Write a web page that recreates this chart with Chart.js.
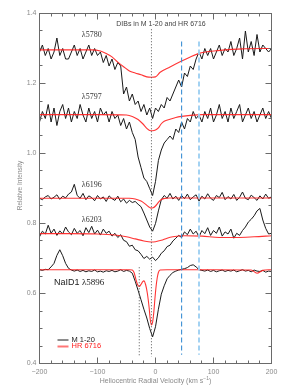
<!DOCTYPE html>
<html>
<head>
<meta charset="utf-8">
<script src="https://cdn.jsdelivr.net/npm/chart.js@4.4.0/dist/chart.umd.min.js"></script>
<style>
html, body { margin: 0; padding: 0; background: #fff; }
</style>
</head>
<body>
<canvas id="grafica" width="283" height="390"></canvas>
<script>
// velocity grid of the M 1-20 spectra (km/s)
const vel = [-200,-195,-190,-185,-180,-175,-170,-165,-160,-155,
  -150,-145,-140,-135,-130,-125,-120,-115,-110,-105,
  -100,-95,-90,-85,-80,-75,-70,-65,-60,-55,
  -50,-45,-40,-35,-30,-25,-20,-15,-10,-5,
  0,5,10,15,20,25,30,35,40,45,
  50,55,60,65,70,75,80,85,90,95,
  100,105,110,115,120,125,130,135,140,145,
  150,155,160,165,170,175,180,185,190,195,
  200];

// M 1-20 (black)
const m5780 = [1.29,1.31,1.28,1.30,1.27,1.29,1.33,1.28,1.30,1.27,
  1.27,1.29,1.31,1.28,1.30,1.27,1.29,1.31,1.28,1.30,
  1.28,1.29,1.26,1.28,1.25,1.27,1.24,1.26,1.25,1.17,
  1.19,1.15,1.17,1.14,1.15,1.12,1.14,1.11,1.13,1.10,
  1.13,1.12,1.14,1.13,1.16,1.15,1.17,1.19,1.21,1.19,
  1.23,1.22,1.25,1.24,1.27,1.29,1.27,1.30,1.28,1.30,
  1.27,1.29,1.31,1.28,1.30,1.29,1.32,1.28,1.30,1.33,
  1.27,1.35,1.29,1.32,1.28,1.34,1.29,1.31,1.30,1.29,
  1.30];
const m5797 = [1.09,1.12,1.10,1.14,1.09,1.13,1.08,1.12,1.14,1.10,
  1.13,1.09,1.12,1.10,1.14,1.11,1.09,1.13,1.10,1.12,
  1.09,1.13,1.11,1.12,1.09,1.12,1.10,1.11,1.08,1.10,
  1.07,1.09,1.06,1.04,0.99,0.96,0.93,0.92,0.90,0.88,
  0.92,0.98,1.01,1.03,1.04,1.05,1.04,1.07,1.06,1.09,
  1.07,1.10,1.09,1.12,1.10,1.11,1.09,1.12,1.10,1.13,
  1.09,1.11,1.14,1.10,1.12,1.09,1.13,1.10,1.12,1.14,
  1.09,1.11,1.13,1.10,1.12,1.09,1.11,1.13,1.10,1.12,
  1.10];
const m6196 = [0.872,0.868,0.876,0.880,0.870,0.875,0.882,0.869,0.878,0.873,
  0.884,0.890,0.912,0.880,0.872,0.886,0.868,0.879,0.874,0.865,
  0.880,0.870,0.876,0.863,0.879,0.871,0.866,0.878,0.862,0.870,
  0.858,0.866,0.860,0.863,0.855,0.848,0.830,0.810,0.790,0.778,
  0.800,0.836,0.868,0.880,0.872,0.886,0.870,0.878,0.866,0.880,
  0.871,0.884,0.868,0.876,0.882,0.864,0.878,0.870,0.885,0.872,
  0.866,0.880,0.874,0.889,0.868,0.877,0.870,0.883,0.866,0.875,
  0.890,0.872,0.868,0.881,0.874,0.866,0.879,0.870,0.884,0.872,
  0.876];
const m6203 = [0.762,0.778,0.770,0.795,0.772,0.784,0.766,0.779,0.770,0.790,
  0.776,0.768,0.786,0.772,0.780,0.765,0.788,0.774,0.792,0.770,
  0.781,0.767,0.784,0.772,0.778,0.764,0.772,0.760,0.768,0.752,
  0.748,0.735,0.738,0.725,0.722,0.712,0.700,0.706,0.698,0.704,
  0.694,0.702,0.715,0.722,0.734,0.738,0.750,0.758,0.766,0.760,
  0.776,0.768,0.784,0.770,0.778,0.762,0.780,0.771,0.788,0.766,
  0.780,0.772,0.790,0.764,0.776,0.770,0.784,0.758,0.772,0.766,
  0.780,0.790,0.804,0.812,0.822,0.836,0.843,0.810,0.786,0.770,
  0.772];
const mNa = [0.668,0.666,0.669,0.668,0.676,0.686,0.709,0.725,0.708,0.686,
  0.672,0.667,0.664,0.667,0.663,0.666,0.662,0.665,0.663,0.667,
  0.662,0.664,0.661,0.665,0.663,0.666,0.662,0.664,0.668,0.663,
  0.666,0.664,0.658,0.635,0.609,0.582,0.555,0.530,0.500,0.476,
  0.505,0.555,0.598,0.622,0.642,0.652,0.660,0.664,0.667,0.669,
  0.671,0.674,0.680,0.682,0.676,0.668,0.666,0.664,0.667,0.663,
  0.666,0.662,0.665,0.667,0.663,0.666,0.664,0.667,0.662,0.665,
  0.668,0.664,0.666,0.662,0.667,0.664,0.663,0.666,0.661,0.664,
  0.663];

// HR 6716 (red)
const r5780Vel = [-200,-150,-110,-95,-85,-75,-65,-55,-45,-35,-25,-15,-7,0,8,25,45,60,75,90,107,150,200];
const r5780 = [1.296,1.296,1.296,1.293,1.286,1.276,1.261,1.248,1.236,1.230,1.225,1.219,1.218,1.219,1.232,1.247,1.264,1.276,1.286,1.291,1.294,1.299,1.300];
const r5797Vel = [-200,-100,-50,-40,-30,-22,-15,-10,-5,0,5,10,15,25,35,45,60,80,200];
const r5797 = [1.111,1.111,1.110,1.106,1.097,1.085,1.072,1.066,1.065,1.067,1.073,1.085,1.092,1.098,1.103,1.106,1.109,1.111,1.111];
const r6196Vel = [-200,-45,-35,-25,-18,-12,-8,-4,0,4,8,14,25,200];
const r6196 = [0.872,0.872,0.870,0.864,0.856,0.848,0.844,0.845,0.850,0.858,0.866,0.871,0.873,0.873];
const r6203Vel = [-200,-150,-100,-70,-50,-35,-20,-8,0,10,20,30,50,80,110,140,170,200];
const r6203 = [0.771,0.771,0.770,0.767,0.762,0.756,0.750,0.747,0.748,0.752,0.758,0.762,0.765,0.764,0.760,0.760,0.762,0.765];
const rNaVel = [-200,-100,-45,-40,-37,-34,-31,-28,-25,-22,-20,-17,-14,-11,-9,-7,-5,-3,-1,1,3,5,8,20,100,165,175,185,200];
const rNa = [0.668,0.668,0.668,0.667,0.660,0.642,0.626,0.620,0.626,0.634,0.636,0.625,0.600,0.560,0.525,0.510,0.518,0.545,0.585,0.620,0.645,0.660,0.667,0.668,0.668,0.667,0.658,0.666,0.668];

// velocity markers
const markVel = [-7, -28, 45, 75];
const markTop = [1.355, 0.675, 1.32, 1.32];
const markBottom = [0.42, 0.42, 0.425, 0.425];

// axis ticks
const xTicks = [-200, -100, 0, 100, 200];
const xTickLabels = ['\u2212200', '\u2212100', '0', '100', '200'];
const yTicks = [0.4, 0.6, 0.8, 1.0, 1.2, 1.4];
const yTickLabels = ['0.4', '0.6', '0.8', '1.0', '1.2', '1.4'];

const bandLabels = [
  { text: '\u03bb5780', x: -127, y: 1.34 },
  { text: '\u03bb5797', x: -127, y: 1.163 },
  { text: '\u03bb6196', x: -127, y: 0.911 },
  { text: '\u03bb6203', x: -127, y: 0.811 }
];

function pairs(xs, ys) {
  return xs.map((v, i) => ({ x: v, y: ys[i] }));
}

const black = '#1a1a1a';
const red = 'rgba(255,30,30,0.9)';

function spec(ys) {
  return { data: pairs(vel, ys), borderColor: black, borderWidth: 1, pointRadius: 0, order: 3 };
}
function hr(xs, ys) {
  return { data: pairs(xs, ys), borderColor: red, borderWidth: 1.1, pointRadius: 0,
    cubicInterpolationMode: 'monotone', order: 2 };
}
function marker(i, color, dash, width) {
  return { data: [{ x: markVel[i], y: markTop[i] }, { x: markVel[i], y: markBottom[i] }],
    borderColor: color, borderDash: dash, borderWidth: width, pointRadius: 0, order: 1 };
}

const decor = {
  id: 'decor',
  afterDraw(chart) {
    const { ctx, chartArea: a } = chart;
    const sx = chart.scales.x, sy = chart.scales.y;
    ctx.save();

    // frame and inward ticks
    ctx.strokeStyle = '#6a6a6a';
    ctx.lineWidth = 1;
    ctx.strokeRect(a.left, a.top, a.right - a.left, a.bottom - a.top);
    ctx.beginPath();
    for (let v = -200; v <= 200; v += 20) {
      const px = Math.floor(sx.getPixelForValue(v)) + 0.5;
      const len = v % 100 === 0 ? 6 : 3;
      ctx.moveTo(px, a.bottom); ctx.lineTo(px, a.bottom - len);
      ctx.moveTo(px, a.top); ctx.lineTo(px, a.top + len);
    }
    for (let k = 0; k <= 20; k++) {
      const v = 0.4 + k * 0.05;
      const py = Math.floor(sy.getPixelForValue(v)) + 0.5;
      const len = k % 4 === 0 ? 6 : 3;
      ctx.moveTo(a.left, py); ctx.lineTo(a.left + len, py);
      ctx.moveTo(a.right, py); ctx.lineTo(a.right - len, py);
    }
    ctx.stroke();

    // tick labels
    ctx.fillStyle = '#8a8a8a';
    ctx.font = '7px "Liberation Sans", Arial, sans-serif';
    ctx.textBaseline = 'middle';
    ctx.textAlign = 'right';
    yTicks.forEach((v, i) => ctx.fillText(yTickLabels[i], a.left - 3, sy.getPixelForValue(v)));
    ctx.textAlign = 'center';
    xTicks.forEach((v, i) => ctx.fillText(xTickLabels[i], sx.getPixelForValue(v), a.bottom + 9));

    // axis titles
    const cx = (a.left + a.right) / 2;
    const t1 = 'Heliocentric Radial Velocity (km s';
    ctx.font = '7px "Liberation Sans", Arial, sans-serif';
    const w1 = ctx.measureText(t1).width;
    ctx.font = '5px "Liberation Sans", Arial, sans-serif';
    const w2 = ctx.measureText('\u22121').width;
    ctx.font = '7px "Liberation Sans", Arial, sans-serif';
    const w3 = ctx.measureText(')').width;
    let x0 = cx - (w1 + w2 + w3) / 2;
    ctx.textAlign = 'left';
    ctx.fillText(t1, x0, a.bottom + 18);
    ctx.font = '5px "Liberation Sans", Arial, sans-serif';
    ctx.fillText('\u22121', x0 + w1, a.bottom + 15.5);
    ctx.font = '7px "Liberation Sans", Arial, sans-serif';
    ctx.fillText(')', x0 + w1 + w2, a.bottom + 18);

    ctx.save();
    ctx.translate(20, (a.top + a.bottom) / 2 - 3);
    ctx.rotate(-Math.PI / 2);
    ctx.textAlign = 'center';
    ctx.font = '6.5px "Liberation Sans", Arial, sans-serif';
    ctx.fillText('Relative Intensity', 0, 0);
    ctx.restore();

    // title
    ctx.fillStyle = '#444';
    ctx.font = '7px "Liberation Sans", Arial, sans-serif';
    ctx.textAlign = 'center';
    ctx.fillText('DIBs in M 1-20 and HR 6716', 161, a.top + 11);

    // band labels
    ctx.fillStyle = '#333';
    ctx.textAlign = 'left';
    ctx.font = '8px "Liberation Serif", "Times New Roman", serif';
    bandLabels.forEach(l => ctx.fillText(l.text, sx.getPixelForValue(l.x), sy.getPixelForValue(l.y)));
    ctx.fillStyle = '#222';
    ctx.font = '9px "Liberation Sans", Arial, sans-serif';
    ctx.fillText('NaID1', sx.getPixelForValue(-175), sy.getPixelForValue(0.631));
    ctx.font = '9px "Liberation Serif", "Times New Roman", serif';
    ctx.fillText('\u03bb5896', sx.getPixelForValue(-175) + 28, sy.getPixelForValue(0.631));

    // legend
    const lx = a.left + 18, ly = a.bottom - 24;
    ctx.lineWidth = 1;
    ctx.strokeStyle = black;
    ctx.beginPath(); ctx.moveTo(lx, ly + 0.5); ctx.lineTo(lx + 11, ly + 0.5); ctx.stroke();
    ctx.strokeStyle = 'rgba(255,60,60,0.7)';
    ctx.lineWidth = 2;
    ctx.beginPath(); ctx.moveTo(lx, ly + 7); ctx.lineTo(lx + 11, ly + 7); ctx.stroke();
    ctx.font = '7.5px "Liberation Sans", Arial, sans-serif';
    ctx.fillStyle = '#222';
    ctx.fillText('M 1-20', lx + 14, ly);
    ctx.fillStyle = '#ff2020';
    ctx.fillText('HR 6716', lx + 14, ly + 6.5);

    ctx.restore();
  }
};

new Chart(document.getElementById('grafica'), {
  type: 'line',
  data: {
    datasets: [
      spec(m5780), spec(m5797), spec(m6196), spec(m6203), spec(mNa),
      hr(r5780Vel, r5780), hr(r5797Vel, r5797), hr(r6196Vel, r6196), hr(r6203Vel, r6203), hr(rNaVel, rNa),
      marker(0, '#555', [1, 2], 1),
      marker(1, '#555', [1, 2], 1),
      marker(2, '#3c8fd4', [5, 3], 1.1),
      marker(3, '#9fd0f2', [5, 3], 1.9)
    ]
  },
  options: {
    responsive: false,
    animation: false,
    events: [],
    layout: { padding: { left: 39.5, right: 11.5, top: 13.5, bottom: 26.5 } },
    scales: {
      x: { type: 'linear', min: -200, max: 200, display: false },
      y: { type: 'linear', min: 0.4, max: 1.4, display: false }
    },
    plugins: {
      legend: { display: false },
      tooltip: { enabled: false }
    }
  },
  plugins: [decor]
});
</script>
</body>
</html>
